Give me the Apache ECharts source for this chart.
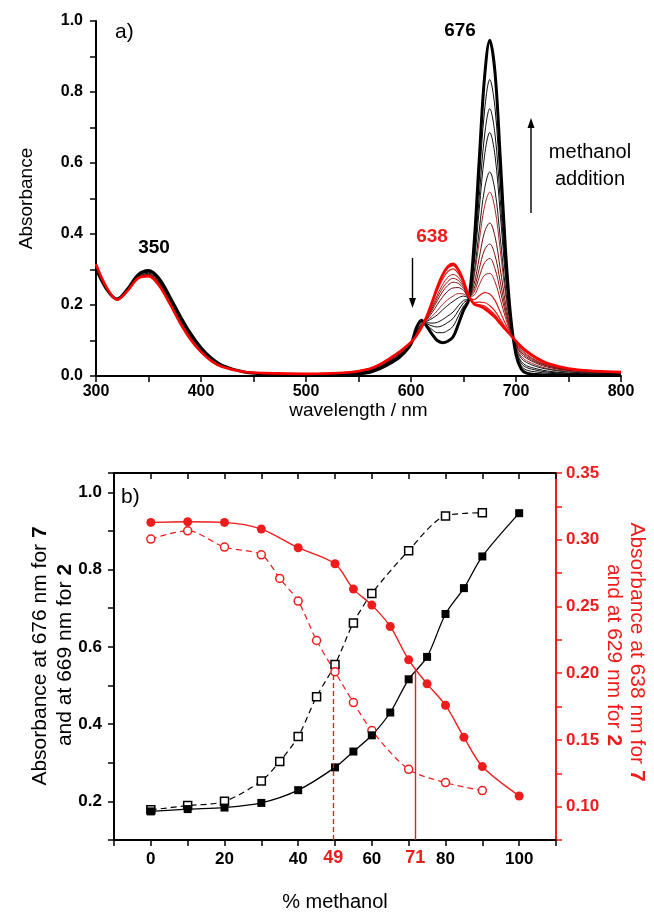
<!DOCTYPE html>
<html>
<head>
<meta charset="utf-8">
<script src="https://cdn.jsdelivr.net/npm/echarts@6/dist/echarts.min.js"></script>
<style>
  html, body { margin: 0; padding: 0; background: #fff; }
  #chart { width: 654px; height: 913px; }
</style>
</head>
<body>
<div id="chart"></div>
<script>
// ---- panel a) spectra ----
const wavelengths = [300,310,320,330,340,350,360,370,380,390,400,410,420,440,460,500,540,560,570,580,590,600,605,610,615,620,625,630,635,640,645,650,655,660,665,670,675,680,685,690,695,700,705,710,720,730,750,775,800];
// one row per methanol %, 0 % (red) -> 100 % (black)
const spectraPct = [0,10,20,30,40,50,55,60,65,70,75,80,85,90,100];
const spectra = [
  [0.315,0.250,0.215,0.240,0.275,0.281,0.255,0.205,0.150,0.103,0.068,0.042,0.026,0.012,0.008,0.006,0.010,0.020,0.032,0.050,0.070,0.095,0.113,0.137,0.168,0.208,0.250,0.285,0.308,0.316,0.300,0.268,0.225,0.203,0.197,0.190,0.178,0.165,0.148,0.131,0.115,0.098,0.083,0.070,0.050,0.036,0.021,0.014,0.011],
  [0.315,0.250,0.215,0.240,0.275,0.281,0.255,0.205,0.150,0.103,0.068,0.042,0.026,0.012,0.008,0.006,0.010,0.020,0.032,0.050,0.070,0.095,0.113,0.137,0.168,0.208,0.249,0.284,0.307,0.315,0.299,0.268,0.225,0.204,0.199,0.193,0.182,0.168,0.150,0.132,0.115,0.098,0.083,0.070,0.050,0.036,0.021,0.014,0.011],
  [0.315,0.250,0.215,0.240,0.275,0.281,0.255,0.205,0.150,0.103,0.068,0.042,0.026,0.012,0.008,0.006,0.010,0.020,0.032,0.050,0.070,0.095,0.113,0.137,0.168,0.207,0.249,0.283,0.306,0.314,0.298,0.267,0.225,0.205,0.201,0.197,0.186,0.172,0.153,0.133,0.116,0.098,0.082,0.069,0.050,0.036,0.021,0.014,0.011],
  [0.315,0.250,0.215,0.240,0.275,0.281,0.256,0.206,0.151,0.103,0.068,0.042,0.026,0.012,0.008,0.006,0.010,0.020,0.032,0.050,0.070,0.095,0.114,0.138,0.167,0.206,0.246,0.280,0.303,0.311,0.296,0.266,0.225,0.207,0.208,0.207,0.198,0.183,0.160,0.137,0.116,0.097,0.081,0.068,0.049,0.035,0.021,0.014,0.011],
  [0.314,0.250,0.215,0.240,0.276,0.282,0.256,0.206,0.151,0.104,0.069,0.043,0.026,0.012,0.008,0.006,0.010,0.019,0.031,0.049,0.069,0.095,0.115,0.138,0.166,0.202,0.240,0.272,0.294,0.302,0.289,0.262,0.224,0.215,0.226,0.235,0.231,0.213,0.180,0.147,0.119,0.095,0.079,0.066,0.047,0.034,0.020,0.013,0.010],
  [0.313,0.249,0.215,0.241,0.277,0.283,0.258,0.208,0.153,0.106,0.070,0.043,0.027,0.012,0.008,0.006,0.009,0.019,0.030,0.048,0.068,0.094,0.116,0.140,0.164,0.195,0.228,0.257,0.278,0.286,0.278,0.256,0.224,0.227,0.257,0.284,0.289,0.265,0.216,0.164,0.122,0.093,0.074,0.061,0.043,0.031,0.018,0.012,0.010],
  [0.313,0.249,0.215,0.241,0.277,0.284,0.259,0.209,0.154,0.106,0.070,0.044,0.027,0.012,0.008,0.006,0.009,0.018,0.030,0.047,0.067,0.094,0.117,0.141,0.162,0.190,0.220,0.247,0.266,0.275,0.269,0.252,0.223,0.236,0.279,0.319,0.331,0.302,0.241,0.176,0.125,0.090,0.071,0.058,0.041,0.029,0.017,0.012,0.009],
  [0.312,0.249,0.216,0.241,0.278,0.285,0.260,0.210,0.155,0.107,0.071,0.044,0.027,0.012,0.008,0.006,0.009,0.018,0.029,0.046,0.066,0.094,0.119,0.142,0.161,0.185,0.212,0.237,0.255,0.264,0.261,0.247,0.223,0.245,0.302,0.355,0.372,0.340,0.266,0.188,0.128,0.088,0.067,0.054,0.038,0.028,0.016,0.011,0.009],
  [0.311,0.248,0.216,0.242,0.278,0.286,0.262,0.212,0.157,0.109,0.072,0.045,0.027,0.012,0.007,0.005,0.008,0.017,0.028,0.045,0.065,0.093,0.120,0.144,0.159,0.178,0.201,0.222,0.239,0.248,0.249,0.241,0.222,0.258,0.333,0.405,0.431,0.393,0.302,0.205,0.132,0.086,0.062,0.050,0.035,0.025,0.015,0.010,0.008],
  [0.310,0.248,0.216,0.242,0.279,0.288,0.264,0.214,0.159,0.111,0.073,0.046,0.028,0.012,0.007,0.005,0.008,0.016,0.027,0.043,0.063,0.093,0.123,0.146,0.156,0.168,0.184,0.201,0.215,0.225,0.232,0.231,0.221,0.277,0.380,0.477,0.518,0.470,0.354,0.230,0.137,0.081,0.055,0.043,0.030,0.021,0.013,0.009,0.007],
  [0.309,0.247,0.216,0.243,0.280,0.289,0.265,0.215,0.160,0.112,0.074,0.046,0.028,0.012,0.007,0.005,0.007,0.015,0.026,0.042,0.062,0.092,0.124,0.147,0.154,0.162,0.172,0.186,0.199,0.210,0.220,0.225,0.220,0.289,0.411,0.526,0.575,0.522,0.389,0.247,0.141,0.078,0.050,0.038,0.026,0.019,0.011,0.008,0.006],
  [0.307,0.247,0.216,0.243,0.282,0.292,0.268,0.218,0.163,0.114,0.076,0.047,0.029,0.012,0.007,0.005,0.007,0.013,0.024,0.040,0.060,0.092,0.128,0.150,0.150,0.149,0.151,0.159,0.169,0.180,0.198,0.213,0.218,0.313,0.470,0.620,0.686,0.621,0.457,0.279,0.148,0.073,0.041,0.029,0.020,0.014,0.008,0.006,0.005],
  [0.306,0.246,0.217,0.244,0.283,0.293,0.270,0.220,0.165,0.116,0.077,0.048,0.029,0.012,0.007,0.005,0.006,0.013,0.023,0.039,0.059,0.091,0.130,0.152,0.147,0.141,0.138,0.142,0.151,0.162,0.184,0.206,0.218,0.328,0.506,0.676,0.753,0.681,0.497,0.299,0.152,0.070,0.036,0.024,0.016,0.011,0.007,0.005,0.004],
  [0.305,0.246,0.217,0.244,0.284,0.295,0.272,0.222,0.167,0.118,0.078,0.049,0.029,0.012,0.006,0.004,0.006,0.011,0.022,0.037,0.057,0.091,0.132,0.154,0.144,0.131,0.122,0.122,0.128,0.140,0.168,0.197,0.216,0.346,0.550,0.746,0.835,0.755,0.547,0.323,0.158,0.066,0.029,0.017,0.011,0.008,0.005,0.004,0.003],
  [0.303,0.245,0.217,0.245,0.285,0.297,0.275,0.225,0.170,0.120,0.080,0.050,0.030,0.012,0.006,0.004,0.005,0.010,0.020,0.035,0.055,0.090,0.135,0.157,0.140,0.118,0.100,0.094,0.098,0.110,0.145,0.185,0.215,0.370,0.610,0.840,0.946,0.855,0.615,0.355,0.165,0.060,0.020,0.008,0.004,0.003,0.002,0.002,0.002]
];
const spectraColors = ['#ff0000','#f81010','#f01515','#e41818','#d42020','#a81c1c','#901414','#7c1010','#6a0c0c','#a82a2a','#141414','#101010','#0c0c0c','#080808','#000000'];
const spectraWidths = [2.6,1.2,1.2,1.2,1.2,1,1,1,1,1,1,1,1,1,3];

// ---- panel b) titration ----
const pctFilled = [0,10,20,30,40,50,55,60,65,70,75,80,85,90,100];
const abs676 = [0.174,0.180,0.184,0.196,0.229,0.288,0.329,0.371,0.430,0.516,0.574,0.685,0.752,0.834,0.946];
const abs638 = [0.313,0.3135,0.313,0.308,0.294,0.282,0.263,0.251,0.235,0.210,0.192,0.176,0.152,0.130,0.108];
const pctOpen = [0,10,20,30,35,40,45,50,55,60,70,80,90];
const abs669 = [0.178,0.189,0.200,0.253,0.303,0.368,0.471,0.554,0.662,0.738,0.849,0.939,0.947];
const abs629 = [0.3005,0.3067,0.2945,0.2887,0.271,0.254,0.2245,0.201,0.178,0.157,0.128,0.118,0.112];
// vertical guide lines (x on % axis, top in right-axis units)
const crossX = [49.5, 71.8];
const crossTop = [0.199, 0.203];
const crossLabel = ['49', '71'];

const RED = '#ee1c1c';
const SANS = '"Liberation Sans", Arial, sans-serif';

const pairs = (xs, ys) => xs.map((x, i) => [x, ys[i]]);

const chart = echarts.init(document.getElementById('chart'));

// spectra series, intermediates first, then end members on top
const spectraOrder = [1,2,3,4,5,6,7,8,9,10,11,12,13,14,0];
const spectraSeries = spectraOrder.map(k => ({
    type: 'line',
    name: spectraPct[k] + '%',
    xAxisIndex: 0,
    yAxisIndex: 0,
    data: pairs(wavelengths, spectra[k]),
    showSymbol: false,
    smooth: 0.35,
    lineStyle: { color: spectraColors[k], width: spectraWidths[k] },
    silent: true
}));

const tickFont = { fontFamily: SANS, fontWeight: 'bold', fontSize: 16, color: '#000' };
const tickFontB = { fontFamily: SANS, fontWeight: 'bold', fontSize: 17, color: '#000' };

// arrow helper for the annotation arrows
const arrow = (x, y1, y2) => {
    const dir = y2 > y1 ? 1 : -1;
    return [
        { type: 'line', shape: { x1: x, y1: y1, x2: x, y2: y2 - dir * 8 }, style: { stroke: '#000', lineWidth: 1.4 } },
        { type: 'polygon', shape: { points: [[x, y2], [x - 3.5, y2 - dir * 10], [x + 3.5, y2 - dir * 10]] }, style: { fill: '#000' } }
    ];
};

const titleRich = (color) => ({
    n: { fontFamily: SANS, fontSize: 21, fill: color },
    b: { fontFamily: SANS, fontSize: 21, fontWeight: 'bold', fill: color }
});

const option = {
    animation: false,
    backgroundColor: '#fff',
    grid: [
        { left: 96, right: 33, top: 21, height: 355 },
        { left: 114, right: 98, top: 473, height: 368 }
    ],
    xAxis: [
        {
            gridIndex: 0, type: 'value', min: 300, max: 800, interval: 50,
            name: 'wavelength / nm', nameLocation: 'middle', nameGap: 20,
            nameTextStyle: { fontFamily: SANS, fontSize: 19, color: '#000' },
            axisLine: { onZero: false, lineStyle: { color: '#000', width: 2 } },
            axisTick: { length: 6, lineStyle: { color: '#000', width: 1.5 } },
            axisLabel: Object.assign({ margin: 8, formatter: v => (v % 100 === 0 ? String(v) : '') }, tickFont),
            splitLine: { show: false }
        },
        {
            gridIndex: 1, type: 'value', min: -10, max: 110, interval: 10,
            name: '% methanol', nameLocation: 'middle', nameGap: 52,
            nameTextStyle: { fontFamily: SANS, fontSize: 20, color: '#000' },
            axisLine: { onZero: false, lineStyle: { color: '#000', width: 2 } },
            axisTick: { length: 6, lineStyle: { color: '#000', width: 1.5 } },
            axisLabel: Object.assign({ margin: 11, formatter: v => (v >= 0 && v <= 100 && v % 20 === 0 ? String(v) : '') }, tickFontB),
            splitLine: { show: false }
        },
        {
            gridIndex: 1, type: 'value', position: 'top', min: -10, max: 110, interval: 10,
            axisLine: { onZero: false, lineStyle: { color: '#000', width: 2 } },
            axisTick: { inside: true, length: 6, lineStyle: { color: '#000', width: 1.5 } },
            axisLabel: { show: false },
            splitLine: { show: false }
        }
    ],
    yAxis: [
        {
            gridIndex: 0, type: 'value', min: 0, max: 1, interval: 0.1,
            name: 'Absorbance', nameLocation: 'middle', nameGap: 60, nameRotate: 90,
            nameTextStyle: { fontFamily: SANS, fontSize: 19, color: '#000' },
            axisLine: { show: true, onZero: false, lineStyle: { color: '#000', width: 2 } },
            axisTick: { show: true, length: 6, lineStyle: { color: '#000', width: 1.5 } },
            axisLabel: Object.assign({ margin: 13, formatter: v => (Math.round(v * 10) % 2 === 0 ? v.toFixed(1) : '') }, tickFont),
            splitLine: { show: false }
        },
        {
            gridIndex: 1, type: 'value', min: 0.1, max: 1.05, interval: 0.1,
            axisLine: { show: true, onZero: false, lineStyle: { color: '#000', width: 2 } },
            axisTick: { show: true, length: 6, lineStyle: { color: '#000', width: 1.5 } },
            axisLabel: Object.assign({ margin: 12, formatter: v => {
                const t = Math.round(v * 10);
                return (t % 2 === 0 && t >= 2 && t <= 10) ? (t / 10).toFixed(1) : '';
            } }, tickFontB),
            splitLine: { show: false }
        },
        {
            gridIndex: 1, type: 'value', position: 'right', min: 0.075, max: 0.35, interval: 0.025,
            axisLine: { show: true, onZero: false, lineStyle: { color: RED, width: 2 } },
            axisTick: { show: true, length: 6, lineStyle: { color: RED, width: 1.5 } },
            axisLabel: Object.assign({}, tickFontB, { color: RED, margin: 10, formatter: v => {
                const t = Math.round(v * 1000);
                return (t % 50 === 0) ? (t / 1000).toFixed(2) : '';
            } }),
            splitLine: { show: false }
        }
    ],
    series: spectraSeries.concat([
        {
            type: 'line', name: '669 nm (2)', xAxisIndex: 1, yAxisIndex: 1,
            data: pairs(pctOpen, abs669), smooth: 0.3,
            symbol: 'rect', symbolSize: 8,
            itemStyle: { color: '#fff', borderColor: '#000', borderWidth: 1.5 },
            lineStyle: { color: '#000', width: 1.2, type: [6, 4] }
        },
        {
            type: 'line', name: '629 nm (2)', xAxisIndex: 1, yAxisIndex: 2,
            data: pairs(pctOpen, abs629), smooth: 0.3,
            symbol: 'circle', symbolSize: 8,
            itemStyle: { color: '#fff', borderColor: RED, borderWidth: 1.5 },
            lineStyle: { color: RED, width: 1.2, type: [6, 4] },
            markLine: {
                silent: true, symbol: ['none', 'none'],
                lineStyle: { color: RED, width: 1.4 },
                label: { show: true, position: 'start', distance: 9, color: RED, fontFamily: SANS, fontWeight: 'bold', fontSize: 18 },
                data: crossX.map((x, i) => [
                    { coord: [x, 0.075], label: { formatter: crossLabel[i] }, lineStyle: { color: RED, width: 1.4, type: i === 0 ? [5, 3] : 'solid' } },
                    { coord: [x, crossTop[i]] }
                ])
            }
        },
        {
            type: 'line', name: '676 nm (7)', xAxisIndex: 1, yAxisIndex: 1,
            data: pairs(pctFilled, abs676), smooth: 0.3,
            symbol: 'rect', symbolSize: 8,
            itemStyle: { color: '#000' },
            lineStyle: { color: '#000', width: 1.3 }
        },
        {
            type: 'line', name: '638 nm (7)', xAxisIndex: 1, yAxisIndex: 2,
            data: pairs(pctFilled, abs638), smooth: 0.3,
            symbol: 'circle', symbolSize: 9,
            itemStyle: { color: RED },
            lineStyle: { color: RED, width: 1.4 }
        }
    ]),
    graphic: [
        { type: 'text', left: 115, top: 22, style: { text: 'a)', fontFamily: SANS, fontSize: 21, fill: '#000' } },
        { type: 'text', x: 460, y: 31, style: { text: '676', fontFamily: SANS, fontWeight: 'bold', fontSize: 19, fill: '#000', align: 'center', verticalAlign: 'middle' } },
        { type: 'text', x: 154, y: 248, style: { text: '350', fontFamily: SANS, fontWeight: 'bold', fontSize: 19, fill: '#000', align: 'center', verticalAlign: 'middle' } },
        { type: 'text', x: 432, y: 237, style: { text: '638', fontFamily: SANS, fontWeight: 'bold', fontSize: 19, fill: RED, align: 'center', verticalAlign: 'middle' } },
        { type: 'text', x: 590, y: 152, style: { text: 'methanol', fontFamily: SANS, fontSize: 20, fill: '#000', align: 'center', verticalAlign: 'middle' } },
        { type: 'text', x: 590, y: 179, style: { text: 'addition', fontFamily: SANS, fontSize: 20, fill: '#000', align: 'center', verticalAlign: 'middle' } },
        ...arrow(531, 213, 118),
        ...arrow(412.5, 258, 308),
        { type: 'text', left: 121, top: 487, style: { text: 'b)', fontFamily: SANS, fontSize: 21, fill: '#000' } },
        { type: 'text', x: 40, y: 656, rotation: Math.PI / 2,
          style: { text: '{n|Absorbance at 676 nm for }{b|7}', align: 'center', verticalAlign: 'middle', rich: titleRich('#000') } },
        { type: 'text', x: 65, y: 655, rotation: Math.PI / 2,
          style: { text: '{n|and at 669 nm for }{b|2}', align: 'center', verticalAlign: 'middle', rich: titleRich('#000') } },
        { type: 'text', x: 637, y: 652, rotation: -Math.PI / 2,
          style: { text: '{n|Absorbance at 638 nm for }{b|7}', align: 'center', verticalAlign: 'middle', rich: titleRich(RED) } },
        { type: 'text', x: 614, y: 655, rotation: -Math.PI / 2,
          style: { text: '{n|and at 629 nm for }{b|2}', align: 'center', verticalAlign: 'middle', rich: titleRich(RED) } }
    ]
};

chart.setOption(option);
</script>
</body>
</html>
